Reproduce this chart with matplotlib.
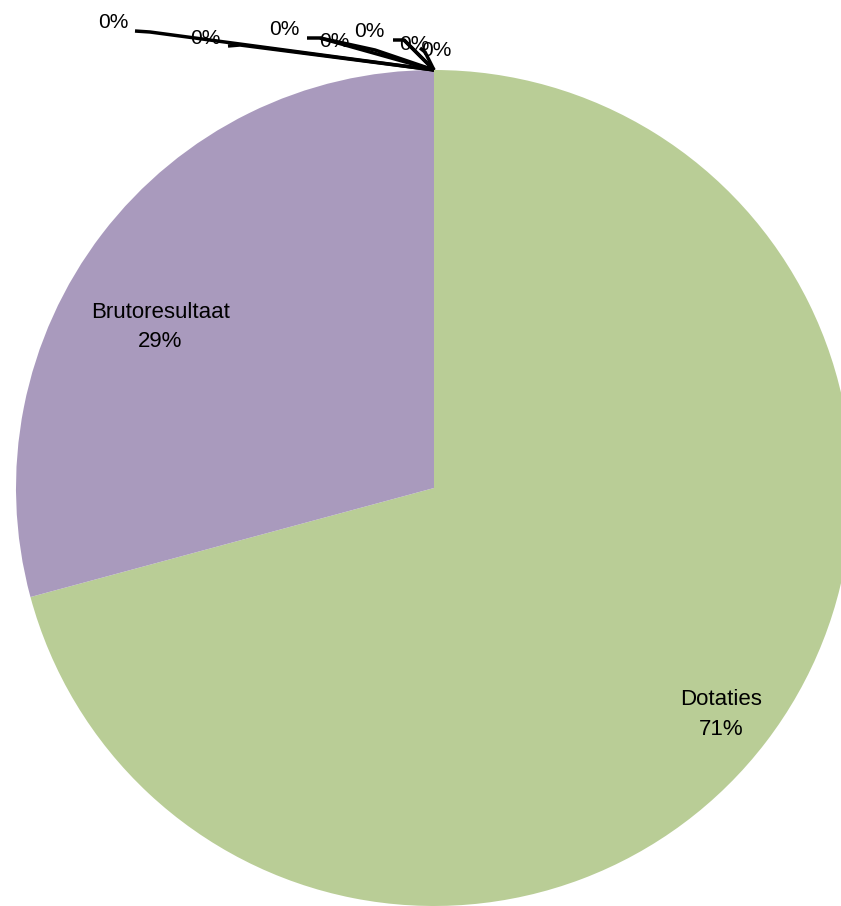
import matplotlib
matplotlib.use("Agg")
import matplotlib.pyplot as plt
import numpy as np

# ---- data ----
categories = ["Dotaties", "Brutoresultaat", "Post 3", "Post 4", "Post 5", "Post 6", "Post 7", "Post 8", "Post 9"]
values = [70.8, 29.2, 0.0, 0.0, 0.0, 0.0, 0.0, 0.0, 0.0]
colors = ["#B9CD96", "#A99ABD", "#4F81BD", "#C0504D", "#9BBB59", "#8064A2", "#4BACC6", "#F79646", "#2C4D75"]
show_name = [True, True, False, False, False, False, False, False, False]

# ---- layout (pixel positions of label texts for zero slices and knee points) ----
W, H = 841, 906
CX, CY, R = 434, 488, 418

def px(x, y):
    return ((x - CX) / R, (CY - y) / R)

zero_label_px = [(113, 22), (205, 38), (284, 29), (334, 41), (369, 31), (414, 44), (436, 50)]
zero_knee_px = [((135, 31), (150, 32)), ((228, 46), (240, 45)), ((307, 38), (320, 38)),
                ((320, 38), (375, 50)), ((393, 40), (404, 40)), ((404, 40), (412, 48)),
                ((420, 48), (425, 52))]
main_label_r = [0.875, 0.76]
main_label_shift = [-0.8, 7.0]

fig = plt.figure(figsize=(W / 100, H / 100), dpi=100)
ax = fig.add_axes([0, 0, 1, 1])

wedges, _ = ax.pie(values, colors=colors, startangle=90, counterclock=False,
                   radius=1, center=(0, 0), wedgeprops=dict(linewidth=0),
                   frame=True)
ax.set_xlim(-CX / R, (W - CX) / R)
ax.set_ylim(-(H - CY) / R, CY / R)
ax.set_aspect("auto")
ax.axis("off")

total = sum(values)
font = ["Liberation Sans", "DejaVu Sans"]
k = 0
zi = 0
for w, cat, v, sn in zip(wedges, categories, values, show_name):
    pct = f"{round(v / total * 100):.0f}%"
    if sn:
        mid = np.deg2rad((w.theta1 + w.theta2) / 2 + main_label_shift[k])
        r = main_label_r[k]
        ax.text(r * np.cos(mid), r * np.sin(mid), f"{cat}\n{pct}", ha="center", va="center",
                fontsize=16, family=font, linespacing=1.55)
        k += 1
    else:
        tip = (np.cos(np.deg2rad(w.theta1)), np.sin(np.deg2rad(w.theta1)))
        lx, ly = px(*zero_label_px[zi])
        (a, b) = zero_knee_px[zi]
        p1 = px(*a)
        p2 = px(*b)
        ax.plot([p1[0], p2[0], tip[0]], [p1[1], p2[1], tip[1]], color="black", lw=2.5,
                solid_capstyle="butt")
        ax.text(lx, ly, pct, ha="center", va="center", fontsize=15, family=font)
        zi += 1

fig.savefig("out.png", dpi=100)
